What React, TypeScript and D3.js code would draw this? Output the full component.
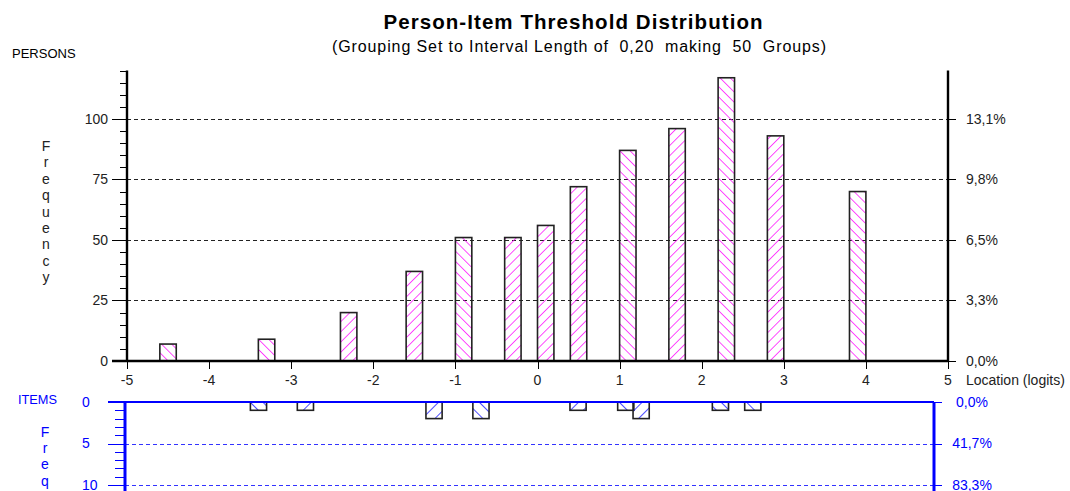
import * as d3 from 'd3'

// persons: bin start (logits) and counts per 0.2 interval
const personBins = [-4.6, -3.4, -2.4, -1.6, -1.0, -0.4, 0.0, 0.4, 1.0, 1.6, 2.2, 2.8, 3.8]
const personCounts = [7, 9, 20, 37, 51, 51, 56, 72, 87, 96, 117, 93, 70]
const personHatch = ['b', 'b', 'f', 'f', 'b', 'f', 'f', 'f', 'b', 'f', 'b', 'f', 'b']

// items: bin start (logits) and counts
const itemBins = [-3.45, -2.87, -1.28, -0.7, 0.5, 1.09, 1.28, 2.26, 2.66]
const itemCounts = [1, 1, 2, 2, 1, 1, 2, 1, 1]
const itemHatch = ['b', 'f', 'f', 'b', 'f', 'b', 'f', 'b', 'b']

const xTicks = [-5, -4, -3, -2, -1, 0, 1, 2, 3, 4, 5]
const personTicks = [0, 25, 50, 75, 100]
const personPct = ['0,0%', '3,3%', '6,5%', '9,8%', '13,1%']
const itemTicks = [0, 5, 10]
const itemPct = ['0,0%', '41,7%', '83,3%']
const binWidth = 0.2

const FONT = '"Liberation Sans", Arial, sans-serif'
const BLUE = '#0000ff'
const MAGENTA = '#ff00ff'

// snap a 1px line to the pixel grid
const px = (v: number) => Math.round(v) + 0.5

export default function App() {
  const x = d3.scaleLinear().domain([-5, 5]).range([127, 948])
  const y = d3.scaleLinear().domain([0, 120]).range([361, 70.5])
  const xi = d3.scaleLinear().domain([-5, 5]).range([125, 934])
  const yi = d3.scaleLinear().domain([0, 10]).range([402, 485])

  const minor = d3.range(0, 121, 5)
  const itemMinor = d3.range(0, 11, 1)

  return (
    <svg
      width={1070}
      height={491}
      style={{ position: 'absolute', left: 0, top: 0, background: '#fff' }}
      fontFamily={FONT}
    >
      <defs>
        <pattern id="ph-f" width={7.2} height={7.2} patternUnits="userSpaceOnUse" patternTransform="rotate(45)">
          <line x1={0} y1={0} x2={0} y2={7.2} stroke={MAGENTA} strokeWidth={1.4} />
        </pattern>
        <pattern id="ph-b" width={7.2} height={7.2} patternUnits="userSpaceOnUse" patternTransform="rotate(-45)">
          <line x1={0} y1={0} x2={0} y2={7.2} stroke={MAGENTA} strokeWidth={1.4} />
        </pattern>
        <pattern id="ih-f" width={9} height={9} patternUnits="userSpaceOnUse" patternTransform="rotate(45)">
          <line x1={0} y1={0} x2={0} y2={9} stroke={BLUE} strokeWidth={1.4} />
        </pattern>
        <pattern id="ih-b" width={9} height={9} patternUnits="userSpaceOnUse" patternTransform="rotate(-45)">
          <line x1={0} y1={0} x2={0} y2={9} stroke={BLUE} strokeWidth={1.4} />
        </pattern>
      </defs>

      {/* titles */}
      <text x={573} y={29} textAnchor="middle" fontSize={20.5} fontWeight="bold" textLength={379} lengthAdjust="spacing">
        Person-Item Threshold Distribution
      </text>
      <text x={579} y={52} textAnchor="middle" fontSize={16} textLength={494} lengthAdjust="spacing" style={{ whiteSpace: 'pre' }}>
        (Grouping Set to Interval Length of  0,20  making  50  Groups)
      </text>
      <text x={12} y={58} fontSize={13}>PERSONS</text>

      {/* vertical Frequency label */}
      {'Frequency'.split('').map((c, i) => (
        <text key={'f' + i} x={46} y={151 + i * 16.4} fontSize={14} textAnchor="middle" fill="#222">
          {c}
        </text>
      ))}

      {/* gridlines */}
      {personTicks.slice(1).map(t => (
        <line key={'g' + t} x1={x(-5)} x2={x(5)} y1={px(y(t))} y2={px(y(t))} stroke="#222" strokeDasharray="4,3" />
      ))}

      {/* person bars */}
      {personBins.map((b, i) => (
        <rect
          key={'pb' + i}
          x={x(b)}
          y={y(personCounts[i])}
          width={x(b + binWidth) - x(b)}
          height={y(0) - y(personCounts[i])}
          fill={`url(#ph-${personHatch[i]})`}
          stroke="#222"
          strokeWidth={1.6}
        />
      ))}

      {/* left axis */}
      <line x1={x(-5)} x2={x(-5)} y1={y(120)} y2={y(0)} stroke="#000" strokeWidth={2.4} />
      {minor.map(t => (
        <line
          key={'mt' + t}
          x1={t % 25 === 0 ? 112 : 120}
          x2={x(-5)}
          y1={px(y(t))}
          y2={px(y(t))}
          stroke="#000"
          strokeWidth={1}
          shapeRendering="crispEdges"
        />
      ))}
      {personTicks.map(t => (
        <text key={'pl' + t} x={108} y={y(t) + 5} fontSize={14} textAnchor="end" fill="#222">
          {t}
        </text>
      ))}

      {/* right axis */}
      <line x1={x(5)} x2={x(5)} y1={y(120)} y2={y(0)} stroke="#000" strokeWidth={2.4} />
      {personTicks.map((t, i) => (
        <g key={'pr' + t}>
          <line x1={x(5)} x2={x(5) + 8} y1={px(y(t))} y2={px(y(t))} stroke="#000" strokeWidth={1} shapeRendering="crispEdges" />
          <text x={966} y={y(t) + 5} fontSize={14} fill="#222">
            {personPct[i]}
          </text>
        </g>
      ))}

      {/* x axis */}
      <line x1={112} x2={x(5)} y1={y(0)} y2={y(0)} stroke="#000" strokeWidth={2.4} />
      {xTicks.map(t => (
        <g key={'xt' + t}>
          <line x1={px(x(t))} x2={px(x(t))} y1={y(0)} y2={y(0) + 8} stroke="#000" strokeWidth={1} shapeRendering="crispEdges" />
          <text x={x(t)} y={385} fontSize={14} textAnchor="middle" fill="#222">
            {t}
          </text>
        </g>
      ))}
      <text x={966} y={385} fontSize={14} fill="#222">Location (logits)</text>

      {/* items panel */}
      <text x={18} y={404} fontSize={13} fill={BLUE} textLength={39} lengthAdjust="spacingAndGlyphs">ITEMS</text>
      {'Freq'.split('').map((c, i) => (
        <text key={'fi' + i} x={45} y={436.5 + i * 16.4} fontSize={14} textAnchor="middle" fill={BLUE}>
          {c}
        </text>
      ))}
      {itemTicks.slice(1).map(t => (
        <line
          key={'ig' + t}
          x1={xi(-5)}
          x2={xi(5)}
          y1={px(yi(t))}
          y2={px(yi(t))}
          stroke="#3333ff"
          strokeDasharray="4,3"
          shapeRendering="crispEdges"
        />
      ))}
      {itemBins.map((b, i) => (
        <rect
          key={'ib' + i}
          x={xi(b)}
          y={yi(0)}
          width={xi(b + binWidth) - xi(b)}
          height={yi(itemCounts[i]) - yi(0)}
          fill={`url(#ih-${itemHatch[i]})`}
          stroke="#222"
          strokeWidth={1.6}
        />
      ))}
      <line x1={108} x2={xi(5)} y1={yi(0)} y2={yi(0)} stroke={BLUE} strokeWidth={2.2} />
      <line x1={xi(-5)} x2={xi(-5)} y1={yi(0)} y2={491} stroke={BLUE} strokeWidth={3} />
      {itemMinor.map(t => (
        <line
          key={'im' + t}
          x1={t % 5 === 0 ? 108 : 115}
          x2={xi(-5)}
          y1={px(yi(t))}
          y2={px(yi(t))}
          stroke={BLUE}
          strokeWidth={1}
          shapeRendering="crispEdges"
        />
      ))}
      {itemTicks.map(t => (
        <text key={'il' + t} x={82} y={yi(t) + 4.5} fontSize={14} fill={BLUE}>
          {t}
        </text>
      ))}
      <line x1={xi(5)} x2={xi(5)} y1={yi(0)} y2={491} stroke={BLUE} strokeWidth={3} />
      {itemTicks.map((t, i) => (
        <g key={'ir' + t}>
          <line x1={xi(5)} x2={xi(5) + 8} y1={px(yi(t))} y2={px(yi(t))} stroke={BLUE} strokeWidth={1} shapeRendering="crispEdges" />
          <text x={972} y={yi(t) + 4.5} fontSize={14} textAnchor="middle" fill={BLUE}>
            {itemPct[i]}
          </text>
        </g>
      ))}
    </svg>
  )
}
